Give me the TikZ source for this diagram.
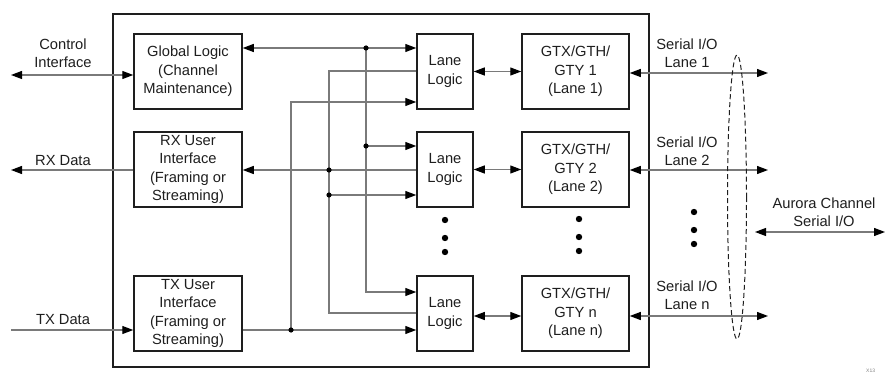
\documentclass[tikz,border=0pt]{standalone}
\usepackage{fontspec}
\setmainfont{Liberation Sans}
\usepackage{xcolor}
\usetikzlibrary{arrows.meta}
\usetikzlibrary{positioning}
\definecolor{wire}{HTML}{7A7A7A}
\definecolor{ink}{HTML}{1E1E1E}

\begin{document}
\begin{tikzpicture}[x=1pt,y=-1pt,
  font=\fontsize{14.7}{18.5}\selectfont, text=ink,
  >={Triangle[length=11pt,width=8pt,color=black]},
  wire/.style={draw=wire, line width=1.2pt},
  blk/.style={draw=ink, line width=1.5pt, rectangle, minimum width=108pt, minimum height=75pt, align=center, inner sep=0pt},
  lanebox/.style={blk, minimum width=56pt},
  gtbox/.style={blk, minimum width=107pt},
  lbl/.style={align=center, inner sep=0pt},
  jdot/.style={fill=black},
]
\useasboundingbox (0,0) rectangle (885,374);
\draw[draw=ink, line width=1.8pt] (113,14) rectangle (649,367);

% user side blocks
\node[blk] (glob) at (188,71.5) {Global Logic\\(Channel\\Maintenance)};
\node[blk] (rxui) at (188,169.5) {RX User\\Interface\\(Framing or\\Streaming)};
\node[blk] (txui) at (188,313.5) {TX User\\Interface\\(Framing or\\Streaming)};

% lane logic and transceivers
\node[lanebox] (lane1) at (445,71.5) {Lane\\Logic};
\node[lanebox] (lane2) at (445,169.5) {Lane\\Logic};
\node[lanebox] (lanen) at (445,313.5) {Lane\\Logic};
\node[gtbox] (gt1) at (575.5,71.5) {GTX/GTH/\\GTY 1\\(Lane 1)};
\node[gtbox] (gt2) at (575.5,169.5) {GTX/GTH/\\GTY 2\\(Lane 2)};
\node[gtbox] (gtn) at (575.5,313.5) {GTX/GTH/\\GTY n\\(Lane n)};

% outside labels
\node[lbl] (ctl) at (63,53) {Control\\Interface};
\node[lbl] (rxd) at (63,161) {RX Data};
\node[lbl] (txd) at (63,320) {TX Data};
\node[lbl] (sio1) at (687,53) {Serial I/O\\Lane 1};
\node[lbl] (sio2) at (687,151) {Serial I/O\\Lane 2};
\node[lbl] (sion) at (687,295) {Serial I/O\\Lane n};
\node[lbl] (aur) at (824,212) {Aurora Channel\\Serial I/O};
\node[anchor=west, inner sep=0pt, font=\fontsize{5}{6}\selectfont, text=gray] (fig) at (866,371) {X13};

% free ends and junctions
\coordinate (ctlend) at (11,75);
\coordinate (rxend) at (11,170);
\coordinate (txend) at (11,330);
\coordinate (jg1) at (366,48);
\coordinate (jg2) at (366,146);
\coordinate (cg) at (366,292);
\coordinate (jr1) at (329,170);
\coordinate (jr2) at (329,195);
\coordinate (cr1) at (329,71);
\coordinate (cr2) at (329,313);
\coordinate (jt) at (291,330);
\coordinate (ct) at (291,102);
\coordinate (s1) at (768,73);
\coordinate (s2) at (768,170);
\coordinate (sn) at (768,316);
\coordinate (au1) at (755,232);
\coordinate (au2) at (885,232);

% left side
\draw[wire,<->] (ctlend) -- (glob.west |- ctlend);
\draw[wire,->] (rxui.west |- rxend) -- (rxend);
\draw[wire,->] (txend) -- (txui.west |- txend);

% global logic bus
\draw[wire,<->] (glob.east |- jg1) -- (lane1.west |- jg1);
\draw[wire,->] (jg1) -- (cg) -- (lanen.west |- cg);
\draw[wire,->] (jg2) -- (lane2.west |- jg2);
% rx bus
\draw[wire,->] (lane2.west |- jr1) -- (rxui.east |- jr1);
\draw[wire] (lane1.west |- cr1) -- (cr1) -- (cr2) -- (lanen.west |- cr2);
\draw[wire,->] (jr2) -- (lane2.west |- jr2);
% tx bus
\draw[wire,->] (txui.east |- jt) -- (lanen.west |- jt);
\draw[wire,->] (jt) -- (ct) -- (lane1.west |- ct);

\foreach \j in {jg1,jg2,jr1,jr2,jt}
  \fill[jdot] (\j) circle (2.6pt);

% lane logic <-> transceivers
\draw[wire,<->] (lane1.east) -- (gt1.west);
\draw[wire,<->] (lane2.east) -- (gt2.west);
\draw[wire,<->] (lanen.east |- sn) -- (gtn.west |- sn);

% serial lanes
\draw[wire,<->] (gt1.east |- s1) -- (s1);
\draw[wire,<->] (gt2.east |- s2) -- (s2);
\draw[wire,<->] (gtn.east |- sn) -- (sn);
\draw[wire,<->] (au1) -- (au2);
\draw[draw=ink, dashed, line width=1pt, dash pattern=on 5pt off 3pt] (737,197) ellipse (9.5 and 142);

% ellipsis dots
\foreach \y in {220,238,252} {
  \fill (445,\y) circle (3.2pt);
  \fill (579,\y-1) circle (3.2pt);
  \fill (694,\y-8) circle (3.2pt);
}
\end{tikzpicture}
\end{document}
